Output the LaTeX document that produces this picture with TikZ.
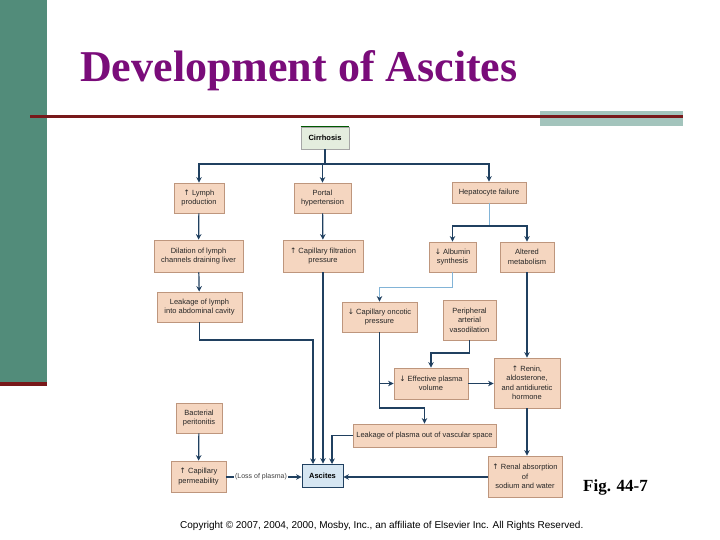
\documentclass[tikz,border=0pt]{standalone}
\usepackage{fontspec}
\setmainfont{Liberation Sans}
\newfontfamily\titlefont{Liberation Serif}
\newfontfamily\dvfont{DejaVu Sans}
\usetikzlibrary{arrows.meta}
\definecolor{greenbar}{RGB}{82,140,122}
\definecolor{darkred}{RGB}{120,24,26}
\definecolor{tealbar}{RGB}{163,196,188}
\definecolor{titlepurple}{RGB}{122,12,122}
\definecolor{boxfill}{RGB}{245,214,192}
\definecolor{boxline}{RGB}{190,150,125}
\definecolor{arrcol}{RGB}{32,64,96}
\definecolor{thincol}{RGB}{130,180,215}
\definecolor{cirrfill}{RGB}{228,237,222}
\definecolor{ascfill}{RGB}{214,230,242}
\newcommand\myup{{\dvfont ↑}}
\newcommand\mydown{{\dvfont ↓}}
\tikzset{
  fbox/.style={draw=boxline, fill=boxfill, line width=0.8pt, align=center, inner sep=1pt,
    font=\fontsize{7.5}{9.5}\selectfont, text=black!85},
  arr/.style={draw=arrcol, line width=1.2pt, -{Stealth[length=5.5pt,width=5.5pt]}},
  ln/.style={draw=arrcol, line width=1.2pt},
  thin/.style={draw=thincol, line width=0.8pt},
  thinarr/.style={draw=thincol, line width=0.8pt, -{Stealth[length=5.5pt,width=5.5pt,color=arrcol]}},
}
\begin{document}
\begin{tikzpicture}[x=1pt,y=-1pt]
\useasboundingbox (0,0) rectangle (720,540);
\fill[white] (0,0) rectangle (720,540);
% decorations
\fill[greenbar] (0,0) rectangle (47,383);
\fill[darkred] (0,382) rectangle (47,386);
\fill[tealbar] (540,111) rectangle (683,126);
\fill[darkred] (30,115.5) rectangle (683,118.5);
\node[anchor=base west, inner sep=0, text=titlepurple, font=\titlefont\bfseries\fontsize{44}{50}\selectfont] (title) at (80,82) {Development of Ascites};
% boxes
\node[draw=gray!70, fill=cirrfill, line width=0.6pt, minimum width=48pt, minimum height=22pt, inner sep=0,
  font=\bfseries\fontsize{7.5}{9}\selectfont] (cirr) at (325,138) {Cirrhosis};
\draw[green!35!black, line width=1pt] (cirr.north west) -- (cirr.north east);
\node[fbox, minimum width=50pt, minimum height=30pt] (lymph) at (199,198) {\myup\ Lymph\\production};
\node[fbox, minimum width=57pt, minimum height=30pt] (portal) at (322.5,198) {Portal\\hypertension};
\node[fbox, minimum width=74pt, minimum height=21pt] (hep) at (489,192.5) {Hepatocyte failure};
\node[fbox, minimum width=89pt, minimum height=32pt] (dil) at (198.5,256) {Dilation of lymph\\channels draining liver};
\node[fbox, minimum width=80pt, minimum height=32pt] (capfilt) at (323,256) {\myup\ Capillary filtration\\pressure};
\node[fbox, minimum width=47pt, minimum height=30pt] (alb) at (452.5,257) {\mydown\ Albumin\\synthesis};
\node[fbox, minimum width=54pt, minimum height=30pt] (alt) at (527,257) {Altered\\metabolism};
\node[fbox, minimum width=85pt, minimum height=30pt] (leakl) at (199.5,307) {Leakage of lymph\\into abdominal cavity};
\node[fbox, minimum width=75pt, minimum height=30pt] (onc) at (379.5,317) {\mydown\ Capillary oncotic\\pressure};
\node[fbox, minimum width=53pt, minimum height=40pt] (per) at (469.5,320) {Peripheral\\arterial\\vasodilation};
\node[fbox, minimum width=74pt, minimum height=31pt] (eff) at (431,383.5) {\mydown\ Effective plasma\\volume};
\node[fbox, minimum width=66pt, minimum height=50pt] (ren) at (527,383) {\myup\ Renin,\\aldosterone,\\and antidiuretic\\hormone};
\node[fbox, minimum width=46pt, minimum height=30pt] (bact) at (199,418) {Bacterial\\peritonitis};
\node[fbox, minimum width=143pt, minimum height=23pt] (leakp) at (424.5,435.5) {Leakage of plasma out of vascular space};
\node[fbox, minimum width=55pt, minimum height=31pt] (capperm) at (198.5,476.5) {\myup\ Capillary\\permeability};
\node[draw=arrcol, fill=ascfill, line width=0.8pt, minimum width=41pt, minimum height=23pt, inner sep=0,
  font=\bfseries\fontsize{7.5}{9}\selectfont] (asc) at (322.5,475.5) {Ascites};
\node[fbox, minimum width=74pt, minimum height=41pt] (renabs) at (525,476.5) {\myup\ Renal absorption\\of\\sodium and water};
\node[inner sep=1pt, font=\fontsize{7}{8}\selectfont, text=black!75] (loss) at (261,477) {(Loss of plasma)};
% connectors
\coordinate (j1) at (325,164);
\draw[ln] (cirr.south) -- (j1);
\draw[arr] (j1) -| (lymph.north);
\draw[arr] (j1) -| (hep.north);
\draw[arr] (portal.north |- j1) -- (portal.north);
\draw[arr] (lymph) -- (dil);
\draw[arr] (dil) -- (leakl);
\draw[arr] (portal) -- (capfilt);
\coordinate (j2) at (489,226);
\draw[thin] (hep.south) -- (j2);
\draw[arr] (j2) -| (alb.north);
\draw[arr] (j2) -| (alt.north);
\coordinate (j3) at (452.5,287);
\draw[thinarr] (alb.south) -- (j3) -| (onc.north);
\draw[arr] (alt.south) -- (ren.north);
\coordinate (j4) at (469.5,353);
\draw[arr] (per.south) -- (j4) -| (eff.north);
\coordinate (j5) at (379.5,408);
\draw[arr] (onc.south) -- (j5) -| (leakp.north);
\draw[arr] (onc.south |- eff.west) -- (eff.west);
\draw[arr] (eff.east) -- (ren.west |- eff.east);
\draw[arr] (ren.south) -- (renabs.north -| ren.south);
\draw[arr] (renabs.west |- 0,477) -- (asc.east |- 0,477);
\coordinate (j6) at (313,340);
\coordinate (a1) at (313,464);
\draw[arr] (leakl.south) |- (j6) -- (a1);
\draw[arr] (capfilt.south) -- (capfilt.south |- asc.north);
\coordinate (a3) at (332,464);
\draw[arr] (leakp.west) -| (a3);
\draw[arr] (bact) -- (capperm);
\draw[ln] (capperm.east |- loss.west) -- (loss.west);
\draw[arr] (loss.east) -- (asc.west |- loss.east);
% captions
\node[anchor=base west, inner sep=0, font=\titlefont\bfseries\fontsize{17}{20}\selectfont] (fig) at (583,491) {Fig. 44-7};
\node[anchor=base west, inner sep=0, font=\fontsize{10}{12}\selectfont] (copy) at (180,528) {Copyright © 2007, 2004, 2000, Mosby, Inc., an affiliate of Elsevier Inc. All Rights Reserved.};
\end{tikzpicture}
\end{document}
